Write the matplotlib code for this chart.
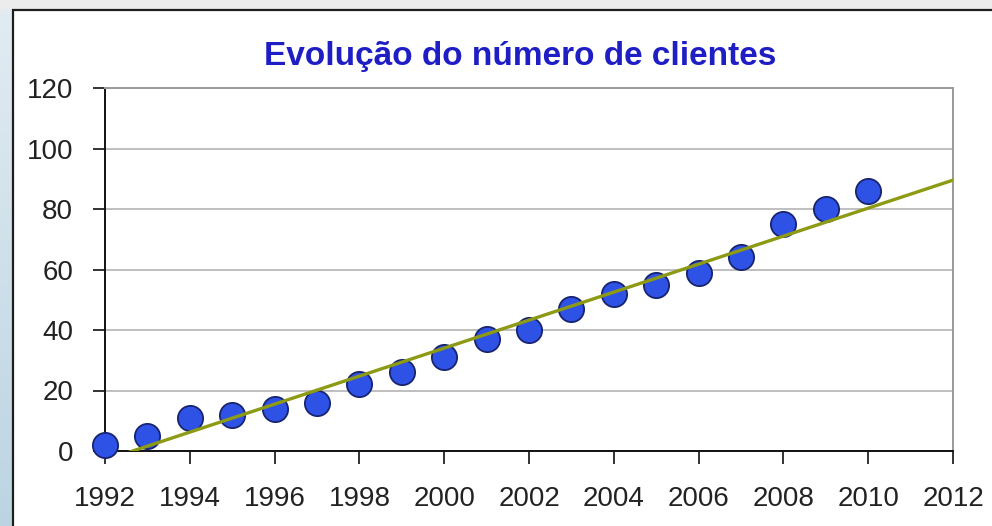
import numpy as np
import matplotlib
matplotlib.use("Agg")
from matplotlib import pyplot as plt
from matplotlib.patches import Rectangle

# data
years = [1992, 1993, 1994, 1995, 1996, 1997, 1998, 1999, 2000, 2001,
         2002, 2003, 2004, 2005, 2006, 2007, 2008, 2009, 2010]
clients = [2, 5, 11, 12, 14, 16, 22, 26, 31, 37,
           40, 47, 52, 55, 59, 64, 75, 80, 86]
xticks = list(range(1992, 2013, 2))
yticks = [0, 20, 40, 60, 80, 100, 120]
title = "Evolução do número de clientes"

plt.rcParams['font.family'] = ['Liberation Sans', 'DejaVu Sans']

W, H = 992, 526
fig = plt.figure(figsize=(W / 100, H / 100), dpi=100)
fig.patch.set_facecolor("white")

# window background around the chart frame
grad = np.linspace(0, 1, 256).reshape(-1, 1)
bg = fig.add_axes([0, 0, 12 / W, 1])
bg.imshow(grad, aspect="auto", cmap=matplotlib.colors.LinearSegmentedColormap.from_list(
    "win", ["#bcd4e2", "#e2ecf2"]), origin="lower")
bg.axis("off")
fig.patches.append(Rectangle((0, 1 - 9 / H), 1, 9 / H, transform=fig.transFigure,
                             facecolor="#ececec", edgecolor="none", zorder=0))
fig.patches.append(Rectangle((12.5 / W, -0.01), 1.5, 1 - 9.5 / H + 0.01,
                             transform=fig.transFigure, facecolor="none",
                             edgecolor="#1e1e1e", linewidth=1.6, zorder=5))

ax = fig.add_axes([105 / W, (H - 451) / H, (953 - 105) / W, (451 - 88) / H])

ax.grid(axis="y", color="#b4b4b4", linewidth=1.2, zorder=0)
ax.scatter(years, clients, s=330, color="#2f52e6", edgecolors="#18246e",
           linewidths=1.3, zorder=3, clip_on=False)

# linear trendline over the whole axis range
k, b = np.polyfit(years, clients, 1)
xt = np.array([1992, 2012])
ax.plot(xt, k * xt + b, color="#8c9a14", linewidth=2.4, zorder=4)

ax.set_xlim(1992, 2012)
ax.set_ylim(0, 120)
ax.set_xticks(xticks)
ax.set_yticks(yticks)
ax.tick_params(axis="both", labelsize=20, colors="#222222", length=9, width=1.3,
               pad=14, direction="out")
ax.tick_params(axis="x", pad=16)

for s in ["left", "bottom"]:
    ax.spines[s].set_color("#111111")
    ax.spines[s].set_linewidth(1.4)
for s in ["top", "right"]:
    ax.spines[s].set_color("#9a9a9a")
    ax.spines[s].set_linewidth(1.4)

fig.text(520 / W, 1 - 57 / H, title, ha="center", va="center", fontsize=24,
         fontweight="bold", color="#1e1ec4")

fig.savefig("out.png", dpi=100)
